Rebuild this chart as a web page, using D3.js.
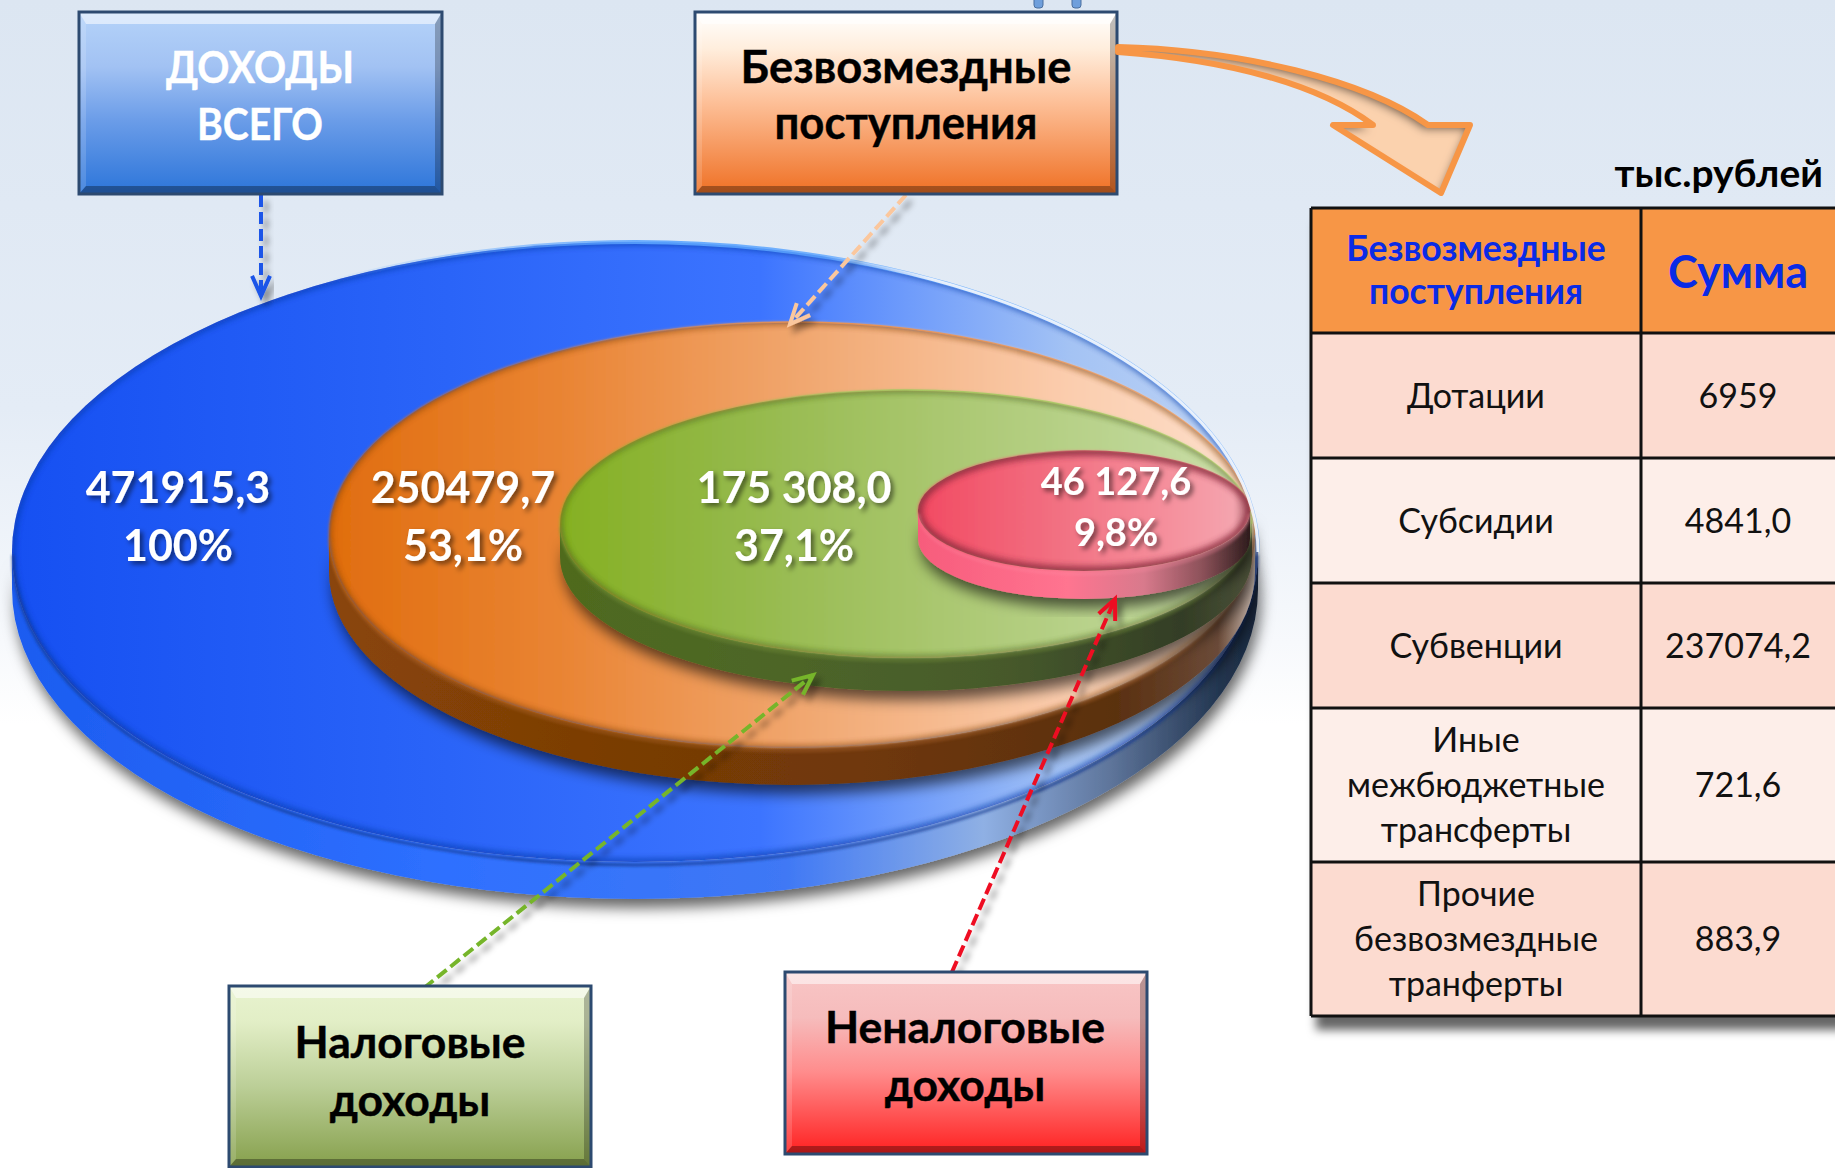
<!DOCTYPE html>
<html><head><meta charset="utf-8">
<style>html,body{margin:0;padding:0;background:#fff}svg{display:block}text{font-family:Lato,"Noto Sans",sans-serif}</style>
<script src="https://cdn.jsdelivr.net/npm/d3@7"></script></head><body>
<script>
// ---- data ----
const regionValues = [471915.3, 250479.7, 175308.0, 46127.6];
const regionAmounts = ["471915,3", "250479,7", "175 308,0", "46 127,6"];
const regionShares = ["100%", "53,1%", "37,1%", "9,8%"];
const boxLabels = [["ДОХОДЫ","ВСЕГО"],["Безвозмездные","поступления"],["Налоговые","доходы"],["Неналоговые","доходы"]];
const tableHeader = [["Безвозмездные","поступления"],["Сумма"]];
const tableCategories = [["Дотации"],["Субсидии"],["Субвенции"],["Иные","межбюджетные","трансферты"],["Прочие","безвозмездные","транферты"]];
const tableValues = ["6959","4841,0","237074,2","721,6","883,9"];
const unitLabel = "тыс.рублей";

const W=1835,H=1168;
const svg=d3.select("body").append("svg").attr("width",W).attr("height",H).attr("viewBox",[0,0,W,H]);
const defs=svg.append("defs");
function grad(id,stops,vertical,user){
  const g=defs.append("linearGradient").attr("id",id).attr("x1",0).attr("y1",0).attr("x2",vertical?0:1).attr("y2",vertical?1:0);
  if(user){g.attr("gradientUnits","userSpaceOnUse").attr("x1",user[0]).attr("y1",user[1]).attr("x2",user[2]).attr("y2",user[3]);}
  stops.forEach(s=>{const e=g.append("stop").attr("offset",s[0]).attr("stop-color",s[1]); if(s[2]!==undefined)e.attr("stop-opacity",s[2]);});
}
function shadow(id,dx,dy,b,op){
  const f=defs.append("filter").attr("id",id).attr("x","-20%").attr("y","-20%").attr("width","140%").attr("height","140%");
  f.append("feDropShadow").attr("dx",dx).attr("dy",dy).attr("stdDeviation",b).attr("flood-color","#000").attr("flood-opacity",op);
}
shadow("discShadow",3,9,7,.6);
shadow("textShadow",3,3,2.5,.55);
shadow("lineShadow",5,6,3,.4);
shadow("tableShadow",5,14,5,.6);
defs.append("filter").attr("id","blur3").append("feGaussianBlur").attr("stdDeviation",3);
defs.append("filter").attr("id","blur1").append("feGaussianBlur").attr("stdDeviation",1.5);
const inner=defs.append("filter").attr("id","innerShadow").attr("x","-10%").attr("y","-10%").attr("width","120%").attr("height","120%");
inner.append("feOffset").attr("in","SourceAlpha").attr("dx",-4).attr("dy",5).attr("result","o");
inner.append("feGaussianBlur").attr("in","o").attr("stdDeviation",4).attr("result","b");
inner.append("feComposite").attr("in","SourceAlpha").attr("in2","b").attr("operator","out").attr("result","c");
inner.append("feFlood").attr("flood-color","#3a2a20").attr("flood-opacity",.85).attr("result","fl");
inner.append("feComposite").attr("in","fl").attr("in2","c").attr("operator","in").attr("result","s");
const im=inner.append("feMerge");im.append("feMergeNode").attr("in","SourceGraphic");im.append("feMergeNode").attr("in","s");

grad("bg",[[0,"#dce6f2"],[.35,"#e4ecf6"],[.55,"#f7f9fc"],[.62,"#ffffff"],[1,"#ffffff"]],true,[0,0,0,H]);
svg.append("rect").attr("width",W).attr("height",H).attr("fill","url(#bg)");

svg.append("g").selectAll("rect").data([1034,1072]).join("rect")
  .attr("x",d=>d).attr("y",-8).attr("width",9).attr("height",16).attr("rx",3)
  .attr("fill","#6f9fdc").attr("stroke","#4a6f9f").attr("stroke-width",1);

// ---- discs: all geometry derived from the value through scales ----
const vd=[46127.6,175308.0,250479.7,471915.3];
const rx=d3.scaleLinear().domain(vd).range([166,346,463,623]);
const ry=d3.scaleLinear().domain(vd).range([60,134,213,310]);
const cy=d3.scaleLinear().domain(vd).range([511,524,535,552]);
const depth=d3.scaleLinear().domain(vd).range([28,33,37,37]);
const right=d3.scaleLinear().domain(vd).range([1250,1252,1255,1258]);

const discStyles=[
 {face:[[0,"#1650f2"],[.35,"#2a64f8"],[.6,"#3c74ff"],[.72,"#6f9cfb"],[.85,"#a4c3f4"],[1,"#c2d6f5"]],
  side:[[0,"#1c5cf0"],[.35,"#2e70ff"],[.62,"#3f78f5"],[.78,"#8fb0e4"],[.88,"#5f769c"],[.97,"#22354f"],[1,"#1c2a40"]],
  rim:"#0d3aa8",lip:"#163a90",top:"#5aa4ff",rw:5,blur:0,lipOp:.9},
 {face:[[0,"#e06d0e"],[.25,"#e98433"],[.55,"#f2ac78"],[.8,"#fbcdae"],[1,"#fde0cc"]],
  side:[[0,"#8a4508"],[.3,"#7a3d05"],[.6,"#6e3708"],[.85,"#5a3010"],[.96,"#6a4a38"],[1,"#c8b8ae"]],
  rim:"#8a4508",lip:"#a8622a",top:"#f0924a",rw:4,blur:1,lipOp:.55},
 {face:[[0,"#85b022"],[.25,"#93b848"],[.55,"#aac770"],[.85,"#bed696"],[1,"#cfe0ae"]],
  side:[[0,"#4f6a1e"],[.35,"#4d6528"],[.65,"#46592c"],[.9,"#333d25"],[1,"#4a5038"]],
  rim:"#4a631c",lip:"#6f8a38",top:"#a6c860",rw:4,blur:1,lipOp:.55},
 {face:[[0,"#f24a62"],[.4,"#f26e80"],[.75,"#f58f9c"],[.95,"#f4a4ae"],[1,"#b06a74"]],
  side:[[0,"#f75c7c"],[.45,"#ff7490"],[.68,"#d87a8c"],[.86,"#8a5058"],[1,"#2e1c1c"]],
  rim:"#8a2a3c",lip:"#ff8ca4",top:"#b84858",rw:9,blur:1,lipOp:.4}
];
regionValues.forEach((v,i)=>{
  const s=discStyles[i],a=rx(v),b=ry(v),r=right(v),cx=r-a,c=cy(v),d=depth(v);
  grad("f"+i,s.face,false);grad("s"+i,s.side,false);
  grad("t"+i,[[0,s.top,0],[.35,s.top,.9],[1,s.top,.6]],false);
  defs.append("clipPath").attr("id","c"+i).append("ellipse").attr("cx",cx).attr("cy",c).attr("rx",a).attr("ry",b);
  const g=svg.append("g").attr("class","disc");
  g.append("path").attr("filter","url(#discShadow)")
    .attr("d",`M${cx-a},${c} A${a},${b} 0 0 0 ${cx+a},${c} L${cx+a},${c+d} A${a},${b} 0 0 1 ${cx-a},${c+d} Z`)
    .attr("fill",`url(#s${i})`);
  const face=g.append("ellipse").attr("cx",cx).attr("cy",c).attr("rx",a).attr("ry",b).attr("fill",`url(#f${i})`);
  if(s.blur) face.attr("filter","url(#blur1)");
  const cl=g.append("g").attr("clip-path",`url(#c${i})`);
  cl.append("ellipse").attr("cx",cx).attr("cy",c).attr("rx",a).attr("ry",b).attr("fill","none")
    .attr("stroke",s.rim).attr("stroke-width",s.rw).attr("filter","url(#blur3)").attr("opacity",.85);
  g.append("path").attr("d",`M${cx-a+1},${c+3} A${a-1},${b} 0 0 0 ${cx+a-1},${c+3}`)
    .attr("fill","none").attr("stroke",s.lip).attr("stroke-width",2.5).attr("opacity",s.lipOp).attr("filter","url(#blur1)");
  g.append("path").attr("d",`M${cx-a*.5},${c-b*.866} A${a},${b} 0 0 1 ${cx+a},${c}`)
    .attr("fill","none").attr("stroke",`url(#t${i})`).attr("stroke-width",i===0?4:1.5);
});
(function(){const v=regionValues[0],a=rx(v),b=ry(v),cx=right(v)-a,c=cy(v);
 grad("hair",[[0,"#f4f7fc",0],[.25,"#f4f7fc",.9],[1,"#f4f7fc",.9]],false);
 svg.append("path").attr("d",`M${cx+a*.3},${c-b*.954} A${a},${b} 0 0 1 ${cx+a},${c}`).attr("fill","none").attr("stroke","url(#hair)").attr("stroke-width",3);})();

// ---- labels on discs ----
const labelCx=[178,463,794,1116];
const labelY=[[503,561],[503,561],[503,561],[495,546]];
const labelSize=[43,43,43,38];
const lg=svg.append("g").attr("filter","url(#textShadow)");
regionValues.forEach((v,i)=>{
  [regionAmounts[i],regionShares[i]].forEach((t,j)=>{
    lg.append("text").text(t).attr("x",labelCx[i]).attr("y",labelY[i][j]).attr("text-anchor","middle")
      .attr("font-size",labelSize[i]).attr("font-weight",700).attr("fill","#fff");
  });
});

// ---- dashed leader arrows ----
function leader(x1,y1,x2,y2,col){
  const g=svg.append("g").attr("filter","url(#lineShadow)");
  g.append("line").attr("x1",x1).attr("y1",y1).attr("x2",x2).attr("y2",y2).attr("stroke",col).attr("stroke-width",4).attr("stroke-dasharray","12 5");
  const an=Math.atan2(y2-y1,x2-x1),L=22,sp=.42;
  const p=[[x2-L*Math.cos(an-sp),y2-L*Math.sin(an-sp)],[x2,y2],[x2-L*Math.cos(an+sp),y2-L*Math.sin(an+sp)]];
  g.append("path").attr("d",d3.line()(p)).attr("fill","none").attr("stroke",col).attr("stroke-width",4);
}
leader(261,195,261,296,"#1a55e8");
leader(906,195,790,324,"#fbc79d");
leader(424,988,813,675,"#76b52a");
leader(952,972,1115,599,"#ee1022");

// ---- bevelled boxes ----
const boxes=[
 {x:79,y:12,w:363,h:182,st:[[0,"#b5d3f9"],[.3,"#a2c2f3"],[.6,"#6a9ce8"],[1,"#2c75da"]],col:"#fff",bl:[83,140],cx:260,fs:43,len:[188,126]},
 {x:695,y:12,w:422,h:182,st:[[0,"#ffffff"],[.2,"#ffeedd"],[.5,"#fdbf97"],[1,"#ef7024"]],col:"#000",bl:[83,139],cx:906,fs:45,len:[331,263]},
 {x:229,y:986,w:362,h:181,st:[[0,"#e8f3cf"],[.2,"#e2eec6"],[.55,"#bccf98"],[1,"#86a04c"]],col:"#000",bl:[1058,1116],cx:410,fs:44.5},
 {x:785,y:972,w:362,h:182,st:[[0,"#f8c6c6"],[.25,"#f6bcbc"],[.55,"#ff8c8c"],[1,"#ff2020"]],col:"#000",bl:[1043,1101],cx:965,fs:44.5}
];
boxes.forEach((b,i)=>{
  grad("b"+i,b.st,true);
  const g=svg.append("g");
  g.append("rect").attr("x",b.x).attr("y",b.y).attr("width",b.w).attr("height",b.h).attr("fill",`url(#b${i})`);
  const t=12,bt=8,sd=7,x0=b.x,x1=b.x+b.w,y0=b.y,y1=b.y+b.h;
  const poly=(pts,fill,op)=>g.append("polygon").attr("points",pts.map(p=>p.join(",")).join(" ")).attr("fill",fill).attr("opacity",op);
  poly([[x0,y0],[x1,y0],[x1-sd,y0+t],[x0+sd,y0+t]],"#fff",.55);
  poly([[x0,y0],[x0+sd,y0+t],[x0+sd,y1-bt],[x0,y1]],"#fff",.15);
  poly([[x1,y0],[x1-sd,y0+t],[x1-sd,y1-bt],[x1,y1]],"#000",.25);
  poly([[x0,y1],[x0+sd,y1-bt],[x1-sd,y1-bt],[x1,y1]],"#000",.32);
  g.append("rect").attr("x",b.x).attr("y",b.y).attr("width",b.w).attr("height",b.h).attr("fill","none").attr("stroke","#2d4a70").attr("stroke-width",3);
  boxLabels[i].forEach((l,j)=>{
    const tx=g.append("text").text(l).attr("x",b.cx).attr("y",b.bl[j]).attr("text-anchor","middle").attr("font-size",b.fs).attr("font-weight",700).attr("fill",b.col).attr("stroke",b.col).attr("stroke-width",.4);
    if(b.len) tx.attr("textLength",b.len[j]).attr("lengthAdjust","spacingAndGlyphs");
  });
});

// ---- curved arrow ----
const arrowPath="M1118,47 C1240,50 1365,80 1428,125 L1470,125 L1441,193 L1333,125 L1373,125 C1320,85 1230,60 1118,52 Z";
svg.append("path").attr("d",arrowPath).attr("fill","#fbd2ae").attr("filter","url(#innerShadow)");
svg.append("path").attr("d",arrowPath).attr("fill","none").attr("stroke","#f79646").attr("stroke-width",6).attr("stroke-linejoin","round");

// ---- table ----
svg.append("text").text(unitLabel).attr("x",1823).attr("y",187).attr("text-anchor","end").attr("font-size",39).attr("font-weight",700).attr("fill","#000");
const colX=[1311,1641,1860];
const rowY=[208,333,458,583,708,862,1016];
const rowFill=["#f79646","#fcdbd0","#fdeee9","#fcdbd0","#fdeee9","#fcdbd0"];
const tb=svg.append("g");
tb.append("rect").attr("x",colX[0]).attr("y",rowY[0]).attr("width",colX[2]-colX[0]).attr("height",rowY[6]-rowY[0]).attr("fill","#888").attr("filter","url(#tableShadow)");
tb.selectAll("rect.row").data(rowFill).join("rect").attr("class","row").attr("x",colX[0]).attr("width",colX[2]-colX[0])
  .attr("y",(d,i)=>rowY[i]).attr("height",(d,i)=>rowY[i+1]-rowY[i]).attr("fill",d=>d);
tb.selectAll("line.h").data(rowY).join("line").attr("class","h").attr("x1",colX[0]).attr("x2",colX[2]).attr("y1",d=>d).attr("y2",d=>d).attr("stroke","#111").attr("stroke-width",3);
tb.selectAll("line.v").data(colX.slice(0,2)).join("line").attr("class","v").attr("x1",d=>d).attr("x2",d=>d).attr("y1",rowY[0]).attr("y2",rowY[6]).attr("stroke","#111").attr("stroke-width",3);
const col1=1476,col2=1738;
tableHeader[0].forEach((t,j)=>tb.append("text").text(t).attr("x",col1).attr("y",[261,304][j]).attr("text-anchor","middle").attr("font-size",35.5).attr("font-weight",700).attr("fill","#0a2be6"));
tb.append("text").text(tableHeader[1][0]).attr("x",col2).attr("y",288).attr("text-anchor","middle").attr("font-size",45).attr("font-weight",700).attr("fill","#0a2be6");
const lineStep=44.7;
tableCategories.forEach((lines,i)=>{
  const mid=(rowY[i+1]+rowY[i+2])/2;
  const first=mid+12-(lines.length-1)*lineStep/2;
  lines.forEach((t,j)=>tb.append("text").text(t).attr("x",col1).attr("y",first+j*lineStep).attr("text-anchor","middle").attr("font-size",34).attr("fill","#111"));
  tb.append("text").text(tableValues[i]).attr("x",col2).attr("y",mid+12).attr("text-anchor","middle").attr("font-size",34).attr("fill","#111");
});
</script></body></html>
